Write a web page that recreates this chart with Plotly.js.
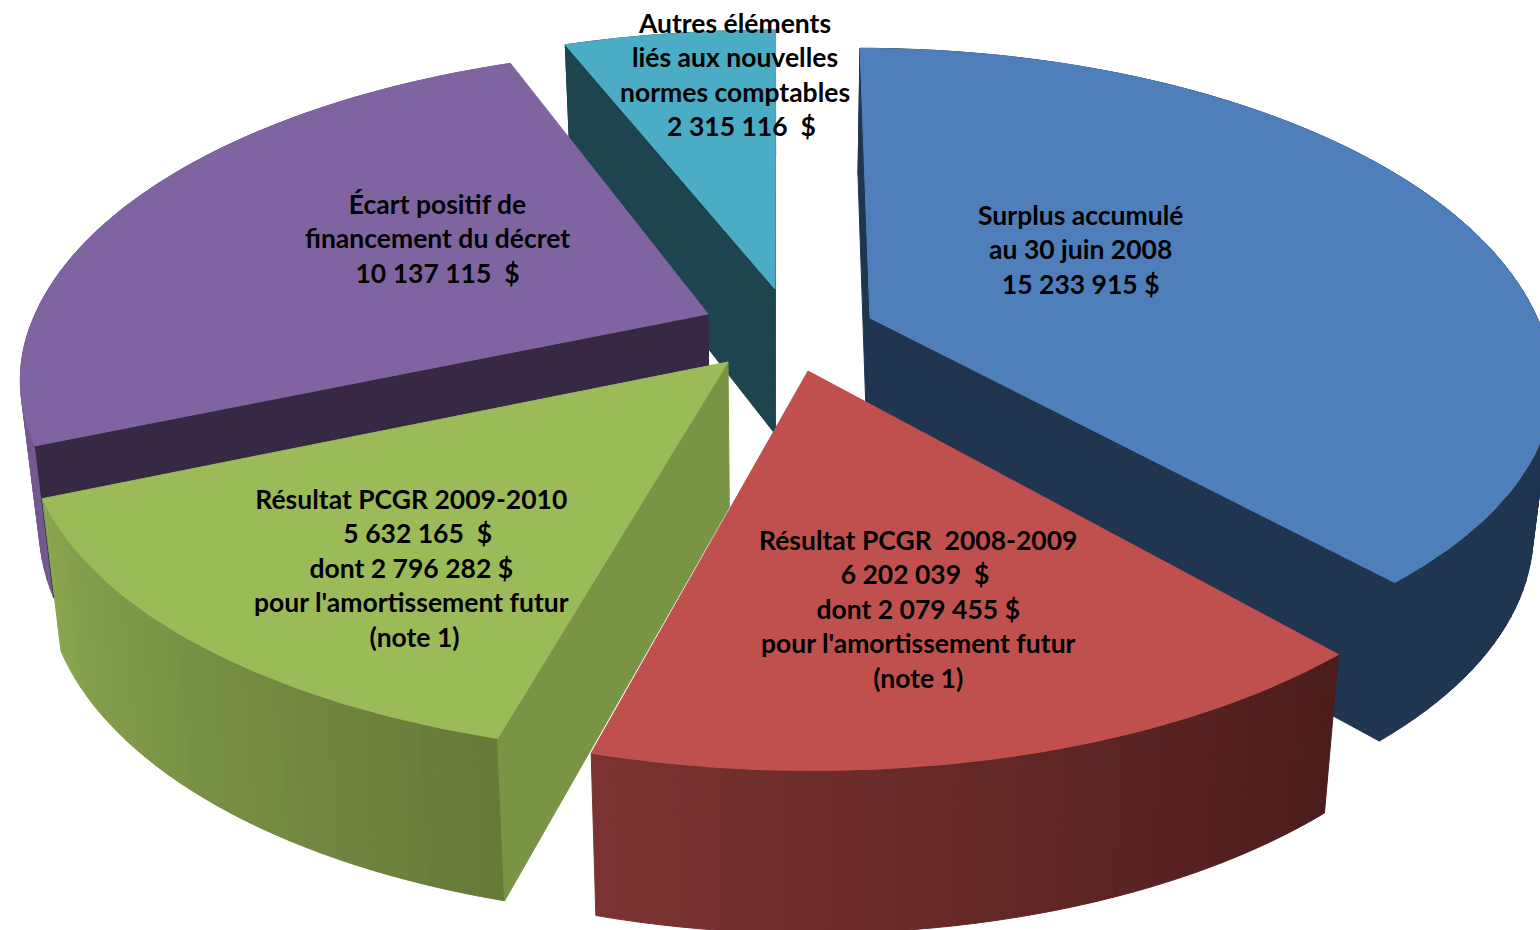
<!DOCTYPE html>
<html>
<head>
<meta charset="utf-8">
<script src="https://cdn.plot.ly/plotly-3.0.0.min.js"></script>
<style>html,body{margin:0;padding:0;background:#fff}#chart{width:1540px;height:930px}</style>
</head>
<body>
<div id="chart"></div>
<script>
// ---- chart data ----
const categories = ["Surplus accumulé au 30 juin 2008", "Résultat PCGR 2008-2009", "Résultat PCGR 2009-2010",
  "Écart positif de financement du décret", "Autres éléments liés aux nouvelles normes comptables"];
const amounts = [15233915, 6202039, 5632165, 10137115, 2315116];
const labelTexts = [
  "Surplus accumulé<br>au 30 juin 2008<br>15\u00a0233\u00a0915 $",
  "Résultat PCGR \u00a02008-2009<br>6\u00a0202\u00a0039 \u00a0$\u00a0<br>dont 2\u00a0079\u00a0455 $<br>pour l'amortissement futur<br>(note 1)",
  "Résultat PCGR 2009-2010<br>\u00a0\u00a05\u00a0632\u00a0165 \u00a0$<br>dont 2\u00a0796\u00a0282 $<br>pour l'amortissement futur<br>\u00a0(note 1)",
  "Écart positif de<br>financement du décret<br>10\u00a0137\u00a0115 \u00a0$",
  "Autres éléments<br>liés aux nouvelles<br>normes comptables<br>\u00a0\u00a02\u00a0315\u00a0116 \u00a0$"
];
// ---- styling ----
const topColors  = ["#4f7fbb", "#bf504e", "#9bbb59", "#8064a2", "#4bacc6"];
const faceColors = ["#1f3550", "#4a1c1c", "#7a9445", "#372944", "#1e4450"];
const wallStart  = ["#1f3550", "#4a1c1c", "#667a39", "#74598f", "#1e4450"];
const wallEnd    = ["#1f3550", "#7c3331", "#8aa64f", "#74598f", "#1e4450"];
// ---- exploded-pie projection (pull of each slice, perspective of the plane) ----
const pullX = [870, 808, 728, 708, 775];
const pullY = [318, 371, 362, 314, 289];
const scaleX = [0.967, 0.99, 0.995, 0.975, 1];
const scaleFront = [0.933, 1, 0.985, 0.95, 1];
const scaleBack = [1, 1, 1, 0.985, 0.96];
const labelX = [1080, 918, 411, 437, 735];
const labelY = [249.5, 609, 568, 238.5, 74];
const RX = 690, RY = 322, K = 0.194, VANISH_X = 780, SHEAR = 2430, TAPER = 0.975;
const drawOrder = [4, 0, 3, 2, 1];

const total = amounts.reduce((a, b) => a + b, 0);
const startAngles = [];
amounts.reduce((acc, v, i) => { startAngles[i] = acc; return acc + v / total * 360; }, 0);

function project(i, deg, r) {
  const t = deg * Math.PI / 180, u = r * Math.sin(t), v = -r * Math.cos(t), w = 1 - K * v;
  const dx = RX * scaleX[i] * u / w, dy = RY * v / w * (v < 0 ? scaleBack[i] : scaleFront[i]);
  const x = pullX[i] + dx + (pullX[i] - VANISH_X) * dy / SHEAR;
  const y = pullY[i] + dy;
  return {x, y, v, bx: VANISH_X + (x - VANISH_X) * TAPER, by: y + 145 + 18 * v};
}
function hex(c) { return [1, 3, 5].map(k => parseInt(c.substr(k, 2), 16)); }
function mix(a, b, f) {
  const A = hex(a), B = hex(b);
  return "rgb(" + A.map((q, k) => Math.round(q + (B[k] - q) * f)).join(",") + ")";
}
function poly(xs, ys, color, name) {
  return {type: "scatter", mode: "lines", x: xs.concat(xs[0]), y: ys.concat(ys[0]), fill: "toself",
    fillcolor: color, line: {color: color, width: 1}, hoverinfo: "skip", name: name, showlegend: false};
}
// a radial face shows only when the slice's top surface lies above its top edge on screen
function faceVisible(c, p, mid) {
  if (Math.abs(p.x - c.x) < 1e-6) return false;
  return mid.y < c.y + (p.y - c.y) * (mid.x - c.x) / (p.x - c.x);
}
const traces = [];
drawOrder.forEach(i => {
  const a0 = startAngles[i], a1 = a0 + amounts[i] / total * 360, name = categories[i];
  const c = project(i, 0, 0), p0 = project(i, a0, 1), p1 = project(i, a1, 1), mid = project(i, (a0 + a1) / 2, 0.6);
  const n = Math.max(4, Math.ceil((a1 - a0) / 1.5));
  for (let s = 0; s < n; s++) {
    const q0 = project(i, a0 + (a1 - a0) * s / n, 1), q1 = project(i, a0 + (a1 - a0) * (s + 1) / n, 1);
    traces.push(poly([q0.x, q1.x, q1.bx, q0.bx], [q0.y, q1.y, q1.by, q0.by],
      mix(wallStart[i], wallEnd[i], (s + 0.5) / n), name));
  }
  [p0, p1].forEach(p => {
    if (faceVisible(c, p, mid)) traces.push(poly([c.x, p.x, p.bx, c.bx], [c.y, p.y, p.by, c.by], faceColors[i], name));
  });
  const xs = [c.x], ys = [c.y];
  for (let s = 0; s <= 80; s++) {
    const q = project(i, a0 + (a1 - a0) * s / 80, 1);
    xs.push(q.x); ys.push(q.y);
  }
  traces.push(poly(xs, ys, topColors[i], name));
});

const annotations = labelTexts.map((t, i) => ({
  text: t, x: labelX[i], y: labelY[i], xref: "x", yref: "y", showarrow: false,
  xanchor: "center", yanchor: "middle", align: "center",
  font: {family: "Lato, 'Open Sans', sans-serif", size: 26.5, color: "#000", weight: 700}
}));

const hidden = {visible: false, fixedrange: true, showgrid: false, zeroline: false};
Plotly.newPlot("chart", traces, {
  width: 1540, height: 930, margin: {l: 0, r: 0, t: 0, b: 0},
  paper_bgcolor: "#fff", plot_bgcolor: "#fff", showlegend: false,
  xaxis: Object.assign({range: [0, 1540]}, hidden),
  yaxis: Object.assign({range: [930, 0]}, hidden),
  annotations: annotations
}, {displayModeBar: false});
</script>
</body>
</html>
